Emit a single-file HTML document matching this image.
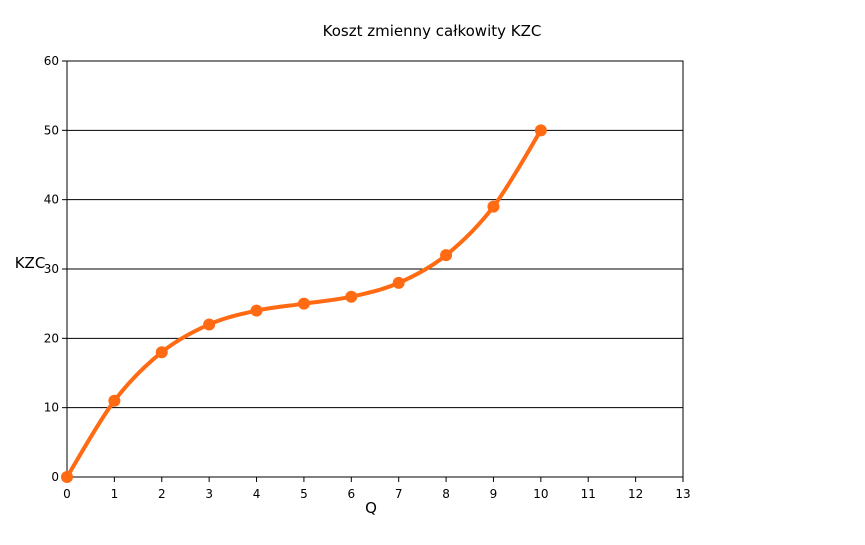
<!DOCTYPE html>
<html><head><meta charset="utf-8"><style>
body{margin:0;background:#fff;}
svg{display:block;font-family:"DejaVu Sans","Liberation Sans",sans-serif;}
</style></head><body>
<svg id="chart" width="865" height="545">
<text x="432" y="36" text-anchor="middle" font-size="15">Koszt zmienny całkowity KZC</text>
<text x="30" y="268" text-anchor="middle" font-size="15">KZC</text>
<text x="371" y="513" text-anchor="middle" font-size="15">Q</text>
<g id="grid"></g><g id="axes"></g><g id="series"></g>
</svg>
<script>
const categories=[0,1,2,3,4,5,6,7,8,9,10];
const values=[0,11,18,22,24,25,26,28,32,39,50];
const xTicks=[0,1,2,3,4,5,6,7,8,9,10,11,12,13];
const yTicks=[0,10,20,30,40,50,60];
const NS="http://www.w3.org/2000/svg";
const L=67,R=683,T=61,B=477;
const xs=v=>L+(v-0)/(13-0)*(R-L);
const ys=v=>B-(v-0)/(60-0)*(B-T);
function mk(tag,attrs,parent){const e=document.createElementNS(NS,tag);for(const k in attrs)e.setAttribute(k,attrs[k]);parent.appendChild(e);return e;}
const grid=document.getElementById('grid'),axes=document.getElementById('axes'),series=document.getElementById('series');
yTicks.forEach(t=>{
  const g=mk('line',{x1:L,x2:R,y1:ys(t),y2:ys(t),stroke:'#000','stroke-width':1},grid);
  
  
  const tk=mk('line',{x1:L-5,x2:L,y1:ys(t),y2:ys(t),stroke:'#000'},axes);
  
  
  const tx=mk('text',{x:L-8,y:ys(t)+4,'text-anchor':'end','font-size':12},axes);
  tx.textContent=t;
  
  
});
const frame=mk('rect',{x:L,y:T,width:R-L,height:B-T,fill:'none',stroke:'#000'},axes);


xTicks.forEach(t=>{
  const tk=mk('line',{x1:xs(t),x2:xs(t),y1:B,y2:B+5,stroke:'#000'},axes);
  
  
  const tx=mk('text',{x:xs(t),y:B+21,'text-anchor':'middle','font-size':12},axes);
  tx.textContent=t;
  
  
});
const pts=categories.map((c,i)=>[xs(c),ys(values[i])]);
let d='M'+pts[0][0]+','+pts[0][1];
for(let i=0;i<pts.length-1;i++){
  const p0=pts[Math.max(0,i-1)],p1=pts[i],p2=pts[i+1],p3=pts[Math.min(pts.length-1,i+2)];
  const c1=[p1[0]+(p2[0]-p0[0])/6,p1[1]+(p2[1]-p0[1])/6];
  const c2=[p2[0]-(p3[0]-p1[0])/6,p2[1]-(p3[1]-p1[1])/6];
  d+=' C'+c1+' '+c2+' '+p2;
}
const line=mk('path',{d:d,fill:'none',stroke:'#ff6a13','stroke-width':4},series);


pts.forEach((p,i)=>{
  const c=mk('circle',{cx:p[0],cy:p[1],r:6,fill:'#ff6a13'},series);
  
  
});
</script>
</body></html>
